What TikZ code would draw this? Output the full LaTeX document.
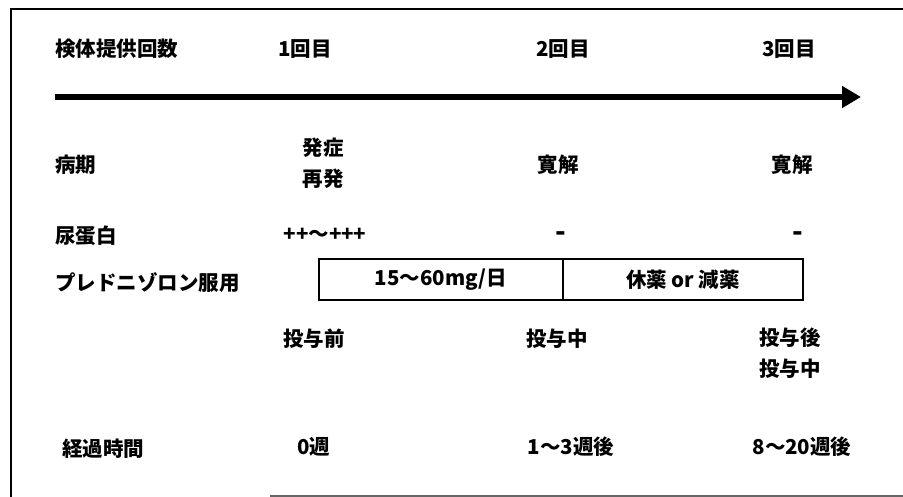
\documentclass[tikz,border=0pt]{standalone}
\usepackage{fontspec}
\setmainfont{Noto Sans CJK JP}[BoldFont={* Black}]
\usetikzlibrary{arrows.meta}
\tikzset{
  lbl/.style={font=\fontsize{20.5}{23}\selectfont\bfseries, inner sep=0pt, anchor=center, align=center},
  lbltwo/.style={lbl, font=\fontsize{20.5}{31}\selectfont\bfseries},
  minus/.style={lbl, font=\fontsize{28}{28}\selectfont\bfseries},
  frame/.style={line width=2.5pt, black},
  cell/.style={draw, line width=1.2pt},
}
\begin{document}
\begin{tikzpicture}[x=1pt,y=-1pt]
\useasboundingbox (0,0) rectangle (903,497);
% frame
\coordinate (ftl) at (11,9);
\coordinate (ftr) at (903,9);
\coordinate (fbl) at (11,497);
\coordinate (bbl) at (270,496);
\coordinate (bbr) at (903,496);
\draw[frame] (ftr) -- (ftl) -- (fbl);
\draw[line width=1.5pt, black!60] (bbl) -- (bbr);
% header row
\node[lbl, anchor=west] (h0) at (55,49) {検体提供回数};
\node[lbl] (h1) at (305,49) {1回目};
\node[lbl] (h2) at (563,49) {2回目};
\node[lbl] (h3) at (789,49) {3回目};
% arrow
\coordinate (as) at (55,97);
\coordinate (ae) at (861,97);
\draw[line width=6pt, -{Triangle[length=19pt,width=21pt]}] (as) -- (ae);
% disease stage
\node[lbl, anchor=west] (s0) at (55,165) {病期};
\node[lbltwo] (s1) at (323,163) {発症\\再発};
\node[lbl] (s2) at (558,165) {寛解};
\node[lbl] (s3) at (792,165) {寛解};
% urinary protein
\node[lbl, anchor=west] (u0) at (55,236) {尿蛋白};
\node[lbl] (u1) at (325,235) {++〜+++};
\node[minus] (u2) at (561,237) {-};
\node[minus] (u3) at (798,237) {-};
% prednisolone
\node[lbl, anchor=west] (p0) at (55,283) {プレドニゾロン服用};
\node[cell, minimum width=244pt, minimum height=41pt, inner sep=0pt] (b1) at (441,279.5) {};
\node[cell, minimum width=240pt, minimum height=41pt, inner sep=0pt] (b2) at (683,279.5) {};
\node[lbl] (b1t) at (b1.center) {15〜60mg/日};
\node[lbl] (b2t) at (b2.center) {休薬 or 減薬};
% administration
\node[lbl] (a1) at (314,339) {投与前};
\node[lbl] (a2) at (557,339) {投与中};
\node[lbltwo] (a3) at (790,353) {投与後\\投与中};
% elapsed time
\node[lbl, anchor=west] (t0) at (62,449) {経過時間};
\node[lbl] (t1) at (314,447) {0週};
\node[lbl] (t2) at (571,447) {1〜3週後};
\node[lbl] (t3) at (802,447) {8〜20週後};
\end{tikzpicture}
\end{document}
